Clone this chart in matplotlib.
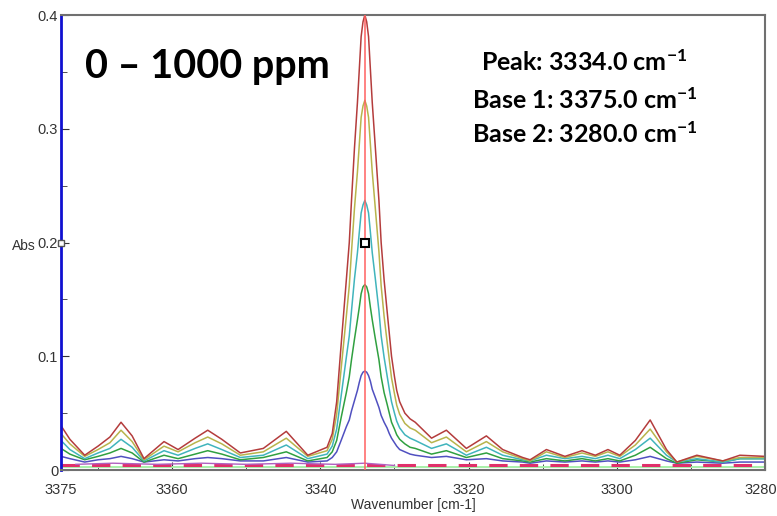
import matplotlib.pyplot as plt
from matplotlib.ticker import MultipleLocator
from matplotlib.transforms import ScaledTranslation

plt.rcParams['font.family'] = ['Liberation Sans', 'DejaVu Sans']
plt.rcParams['mathtext.fontset'] = 'custom'
plt.rcParams['mathtext.rm'] = 'Lato:bold'
plt.rcParams['mathtext.default'] = 'rm'

# wavenumber grid (cm-1)
wn = [3375.0, 3373.8, 3371.8, 3370.0, 3368.4, 3366.9, 3365.4, 3363.8, 3361.1, 3359.2,
      3356.9, 3355.2, 3353.3, 3350.8, 3347.7, 3344.6, 3341.7, 3339.1, 3338.4,
      3337.8, 3337.2, 3336.5, 3336.1, 3335.8, 3335.4, 3335.0, 3334.75, 3334.5, 3334.25,
      3334.0, 3333.75, 3333.5, 3333.25, 3333.0, 3332.6, 3332.1, 3331.8, 3331.4, 3331.0,
      3330.7, 3330.4, 3330.0, 3329.7, 3329.3, 3328.6, 3327.9, 3327.2,
      3325.0, 3323.0, 3320.3, 3317.6, 3315.4, 3312.7, 3311.7, 3309.5, 3307.0, 3304.7,
      3302.9, 3301.2, 3299.6, 3297.5, 3295.5, 3293.3, 3291.9, 3289.2, 3285.7, 3283.4,
      3280.0]

abs_red = [0.039, 0.027, 0.013, 0.021, 0.029, 0.042, 0.030, 0.010, 0.025, 0.018,
           0.028, 0.035, 0.027, 0.015, 0.019, 0.034, 0.013, 0.020, 0.032,
           0.060, 0.110, 0.167, 0.200, 0.237, 0.283, 0.323, 0.352, 0.381, 0.394,
           0.400, 0.394, 0.381, 0.352, 0.323, 0.285, 0.237, 0.200, 0.167, 0.140,
           0.120, 0.100, 0.082, 0.070, 0.060, 0.050, 0.045, 0.042,
           0.028, 0.035, 0.019, 0.030, 0.018, 0.011, 0.009, 0.018, 0.012, 0.017,
           0.013, 0.018, 0.013, 0.026, 0.044, 0.018, 0.007, 0.013, 0.008, 0.013,
           0.012]

abs_olive = [0.032, 0.023, 0.012, 0.018, 0.024, 0.035, 0.025, 0.009, 0.021, 0.016,
             0.024, 0.029, 0.023, 0.013, 0.016, 0.028, 0.012, 0.017, 0.027,
             0.049, 0.089, 0.135, 0.162, 0.192, 0.230, 0.262, 0.286, 0.310, 0.320,
             0.325, 0.320, 0.310, 0.286, 0.262, 0.231, 0.192, 0.162, 0.135, 0.113,
             0.097, 0.081, 0.067, 0.057, 0.049, 0.041, 0.037, 0.035,
             0.024, 0.029, 0.016, 0.025, 0.016, 0.010, 0.008, 0.016, 0.011, 0.015,
             0.012, 0.016, 0.012, 0.022, 0.036, 0.016, 0.007, 0.012, 0.008, 0.011,
             0.011]

abs_cyan = [0.026, 0.018, 0.010, 0.015, 0.019, 0.027, 0.020, 0.008, 0.017, 0.013,
            0.019, 0.023, 0.018, 0.011, 0.013, 0.022, 0.010, 0.014, 0.021,
            0.036, 0.065, 0.099, 0.118, 0.140, 0.168, 0.191, 0.209, 0.226, 0.233,
            0.237, 0.233, 0.226, 0.209, 0.191, 0.169, 0.140, 0.118, 0.099, 0.083,
            0.071, 0.060, 0.050, 0.043, 0.037, 0.031, 0.028, 0.026,
            0.019, 0.023, 0.013, 0.020, 0.013, 0.009, 0.008, 0.013, 0.010, 0.012,
            0.010, 0.013, 0.010, 0.018, 0.028, 0.013, 0.007, 0.010, 0.007, 0.010,
            0.010]

abs_green = [0.019, 0.014, 0.009, 0.012, 0.015, 0.019, 0.015, 0.007, 0.013, 0.010,
             0.014, 0.017, 0.014, 0.009, 0.011, 0.016, 0.008, 0.011, 0.016,
             0.026, 0.046, 0.068, 0.082, 0.097, 0.115, 0.132, 0.143, 0.155, 0.161,
             0.163, 0.161, 0.155, 0.143, 0.132, 0.116, 0.097, 0.082, 0.068, 0.058,
             0.050, 0.042, 0.036, 0.031, 0.027, 0.023, 0.020, 0.019,
             0.014, 0.017, 0.011, 0.015, 0.010, 0.008, 0.007, 0.010, 0.008, 0.010,
             0.008, 0.010, 0.008, 0.013, 0.020, 0.010, 0.006, 0.009, 0.007, 0.010,
             0.010]

abs_blue = [0.012, 0.010, 0.007, 0.009, 0.010, 0.012, 0.010, 0.007, 0.009, 0.008,
            0.010, 0.011, 0.010, 0.008, 0.008, 0.011, 0.007, 0.008, 0.011,
            0.016, 0.026, 0.038, 0.044, 0.052, 0.061, 0.070, 0.077, 0.083, 0.086,
            0.087, 0.086, 0.083, 0.078, 0.071, 0.064, 0.055, 0.048, 0.042, 0.037,
            0.032, 0.028, 0.024, 0.021, 0.018, 0.016, 0.014, 0.013,
            0.011, 0.012, 0.009, 0.010, 0.008, 0.007, 0.006, 0.008, 0.007, 0.008,
            0.007, 0.008, 0.007, 0.009, 0.012, 0.008, 0.006, 0.007, 0.006, 0.007,
            0.007]

# near-zero traces (blank / baseline)
wn_zero = [3375.0, 3280.0]
abs_zero = [0.003, 0.003]
abs_dash = [0.004, 0.004]
wn_purple = [3373.0, 3368.0, 3362.0, 3356.0, 3350.0, 3344.0, 3338.0, 3334.0, 3330.0]
abs_purple = [0.005, 0.006, 0.005, 0.006, 0.005, 0.006, 0.005, 0.006, 0.004]

peak_wn = 3334.0
marker_abs = 0.2

fig = plt.figure(figsize=(7.77, 5.16), dpi=100)
ax = fig.add_axes([0.0785, 0.0891, 0.9061, 0.8818])

ax.plot(wn_zero, abs_zero, color='#a8f0a8', lw=1.4, zorder=2)
ax.plot(wn_zero, abs_dash, color='#e0306a', lw=2.2, ls=(0, (6, 4)), zorder=2)
ax.plot(wn_purple, abs_purple, color='#b060c0', lw=1.0, zorder=2)

for vals, col in [(abs_blue, '#5050c0'), (abs_green, '#30a040'), (abs_cyan, '#40b4bc'),
                  (abs_olive, '#b8b44c'), (abs_red, '#b43c3c')]:
    ax.plot(wn, vals, color=col, lw=1.1, solid_joinstyle='round')

ax.plot([peak_wn, peak_wn], [0, 0.4], color='#ff6060', lw=1.1, zorder=3)
ax.plot([peak_wn], [marker_abs], marker='s', ms=6, mfc='white', mec='black', mew=1.5, zorder=5)
ax.plot([3375.0], [marker_abs], marker='s', ms=5, mfc='white', mec='#555555', mew=1.0,
        clip_on=False, zorder=5)

ax.set_xlim(3375, 3280)
ax.set_ylim(0, 0.4)
ax.xaxis.set_minor_locator(MultipleLocator(10))
ax.yaxis.set_minor_locator(MultipleLocator(0.05))
ax.set_xticks([3375, 3360, 3340, 3320, 3300, 3280])
ax.set_yticks([0, 0.1, 0.2, 0.3, 0.4])
ax.set_yticklabels(['0', '0.1', '0.2', '0.3', '0.4'])
ax.tick_params(direction='in', which='both', labelsize=10.5, colors='#333333', labelcolor='#333333')
ax.tick_params(which='major', length=6)
ax.tick_params(which='minor', length=4)
ax.tick_params(axis='y', pad=2)
ax.tick_params(axis='x', pad=9)

# last x label sits at the figure edge, nudge it inwards a little
last = ax.get_xticklabels()[-1]
last.set_transform(last.get_transform() + ScaledTranslation(-3 / 72, 0, fig.dpi_scale_trans))

for s in ['top', 'right', 'bottom']:
    ax.spines[s].set_color('#707070')
    ax.spines[s].set_linewidth(1.5)
ax.spines['left'].set_color('#1010d0')
ax.spines['left'].set_linewidth(2)

ax.set_xlabel('Wavenumber [cm-1]', fontsize=10, color='#333333', labelpad=1)
fig.text(0.015, 0.523, 'Abs', fontsize=10, color='#333333', va='center')

fig.text(0.109, 0.872, '0 \u2013 1000 ppm', fontsize=28.5, fontweight='bold',
         family=['Lato', 'DejaVu Sans'], va='center')
for txt, ypos in zip(['Peak: 3334.0 cm$^{-1}$', 'Base 1: 3375.0 cm$^{-1}$',
                      'Base 2: 3280.0 cm$^{-1}$'], [0.880, 0.805, 0.740]):
    fig.text(0.752, ypos, txt, fontsize=18, fontweight='bold',
             family=['Lato', 'DejaVu Sans'], ha='center', va='center')

fig.savefig('out.png', dpi=100)
